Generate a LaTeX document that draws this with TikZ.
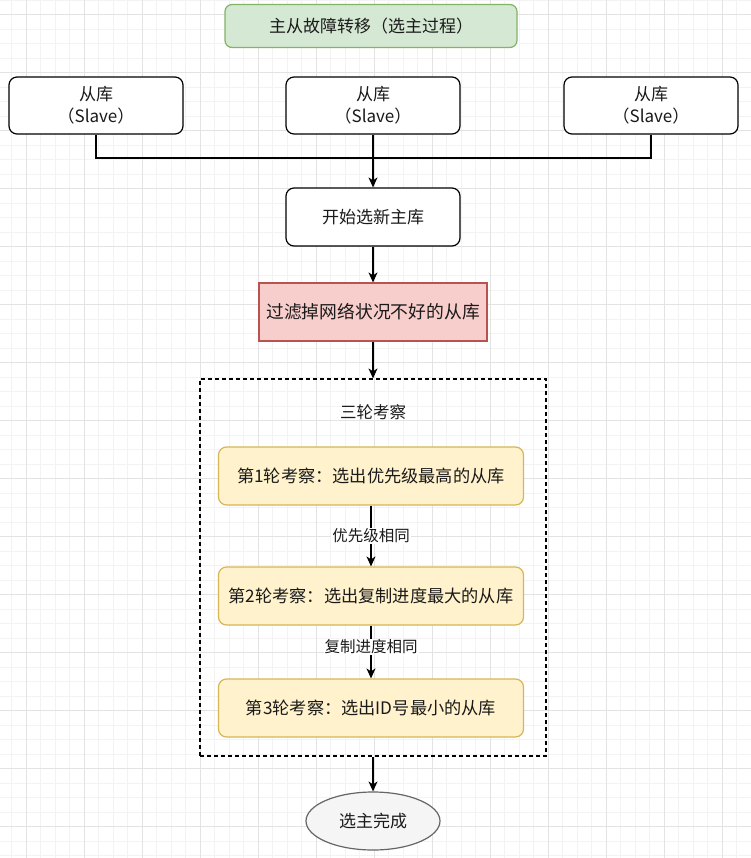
\documentclass[tikz,border=0pt]{standalone}
\usepackage{fontspec}
\setmainfont{Noto Sans CJK SC}
\usetikzlibrary{arrows.meta,shapes.geometric}
\definecolor{gridminor}{HTML}{F3F3F3}
\definecolor{gridmajor}{HTML}{E3E3E3}
\definecolor{greenfill}{HTML}{D5E8D4}
\definecolor{greenline}{HTML}{82B366}
\definecolor{redfill}{HTML}{F8CECC}
\definecolor{redline}{HTML}{B85450}
\definecolor{yelfill}{HTML}{FFF2CC}
\definecolor{yelline}{HTML}{D6B656}
\definecolor{greyfill}{HTML}{F5F5F5}
\definecolor{greyline}{HTML}{666666}
\definecolor{txt}{HTML}{1A1A1A}
\tikzset{
  base/.style={draw, line width=1.2pt, align=center, text=txt, font=\fontsize{17}{22}\selectfont, inner sep=0pt},
  roundbox/.style={base, rounded corners=8pt, fill=white, minimum width=174pt, minimum height=57pt},
  titlebox/.style={base, rounded corners=7pt, fill=greenfill, draw=greenline, minimum width=292pt, minimum height=43pt},
  redbox/.style={base, fill=redfill, draw=redline, minimum width=228pt, minimum height=58pt, font=\fontsize{17.8}{22}\selectfont},
  yelbox/.style={base, rounded corners=8pt, fill=yelfill, draw=yelline, minimum width=305pt, minimum height=58pt, font=\fontsize{17.2}{22}\selectfont},
  groupbox/.style={draw, line width=1.2pt, dash pattern=on 4pt off 3pt, minimum width=346pt, minimum height=377pt, inner sep=0pt},
  endnode/.style={base, ellipse, fill=greyfill, draw=greyline, minimum width=134pt, minimum height=58pt},
  edgelabel/.style={fill=white, text=txt, font=\fontsize{15.5}{18}\selectfont, inner sep=1pt},
  plainlabel/.style={text=txt, font=\fontsize{16.5}{20}\selectfont, inner sep=0pt},
  conn/.style={line width=1.2pt},
  arrowline/.style={line width=1.2pt, -{Stealth[length=10pt,width=9pt,inset=3pt]}}
}
\begin{document}
\begin{tikzpicture}[x=1pt,y=-1pt]
\useasboundingbox (0,0) rectangle (751,858);
\fill[white] (0,0) rectangle (751,858);
% grid
\foreach \i in {0,...,51} {
  \draw[gridminor, line width=0.8pt] ({11.8+14.5*\i},0) -- ({11.8+14.5*\i},858);
}
\foreach \i in {0,...,59} {
  \draw[gridminor, line width=0.8pt] (0,{0+14.5*\i}) -- (751,{0+14.5*\i});
}
\foreach \i in {0,...,12} {
  \draw[gridmajor, line width=0.8pt] ({26.3+58*\i},0) -- ({26.3+58*\i},858);
}
\foreach \i in {0,...,14} {
  \draw[gridmajor, line width=0.8pt] (0,{14.3+58*\i}) -- (751,{14.3+58*\i});
}

% nodes
\node[titlebox] (title) at (371,26) {主从故障转移（选主过程）};
\node[roundbox] (s1) at (96,105.5) {从库\\（Slave）};
\node[roundbox] (s2) at (373,105.5) {从库\\（Slave）};
\node[roundbox] (s3) at (651,105.5) {从库\\（Slave）};
\coordinate (j) at (373,158);
\node[roundbox, minimum height=58pt] (start) at (373,217) {开始选新主库};
\node[redbox] (filter) at (373,312) {过滤掉网络状况不好的从库};
\node[groupbox] (group) at (373,567.5) {};
\node[plainlabel] (grouptitle) at (373,412) {三轮考察};
\node[yelbox] (r1) at (371,476) {第1轮考察：选出优先级最高的从库};
\node[yelbox] (r2) at (371,596) {第2轮考察：选出复制进度最大的从库};
\node[yelbox] (r3) at (371,708) {第3轮考察：选出ID号最小的从库};
\node[endnode] (done) at (373,821) {选主完成};

% connectors
\draw[conn] (s1.south) |- (j);
\draw[conn] (s3.south) |- (j);
\draw[arrowline] (s2.south) -- (start.north);
\draw[arrowline] (start.south) -- (filter.north);
\draw[arrowline] (filter.south) -- (group.north);
\draw[arrowline] (r1.south) -- node[edgelabel] (l1) {优先级相同} (r2.north);
\draw[arrowline] (r2.south) -- node[edgelabel, pos=0.4] (l2) {复制进度相同} (r3.north);
\draw[arrowline] (group.south) -- (done.north);
\end{tikzpicture}
\end{document}
